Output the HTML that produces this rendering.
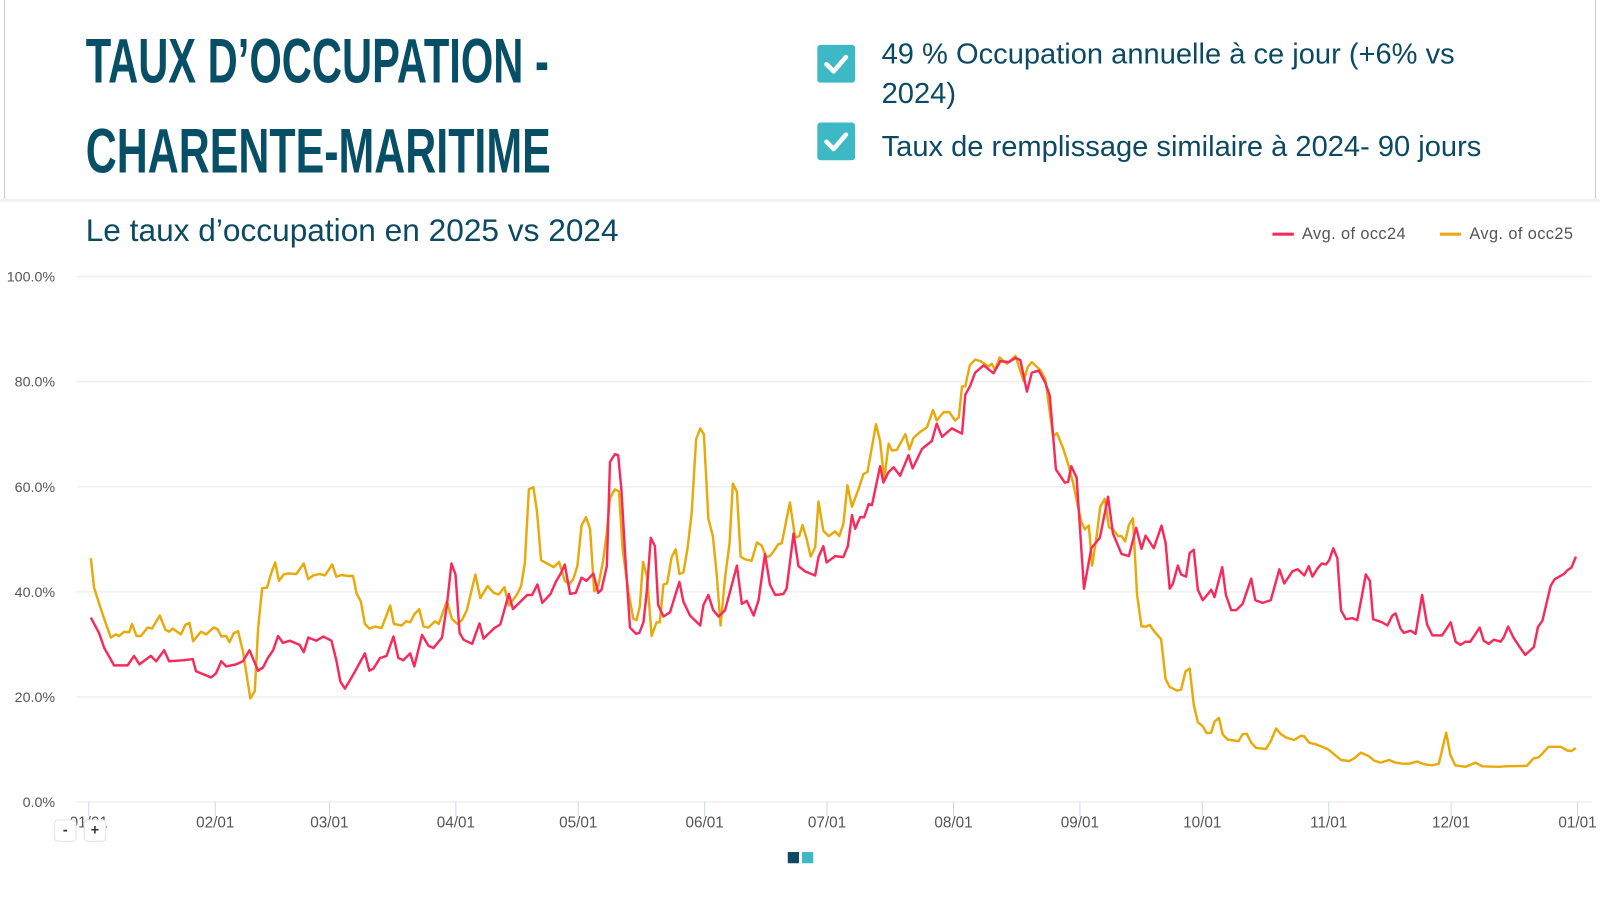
<!DOCTYPE html>
<html><head><meta charset="utf-8">
<style>
html,body{margin:0;padding:0;background:#fff;}
body{width:1600px;height:883px;position:relative;overflow:hidden;font-family:"Liberation Sans",sans-serif;}
#wrap{position:absolute;left:0;top:0;width:1568px;height:866px;transform:scale(1.0204);transform-origin:0 0;}
.abs{position:absolute;}
.title{left:84px;font-family:"Liberation Sans Narrow","Liberation Sans",sans-serif;font-weight:bold;color:#074f66;font-size:62px;line-height:62px;white-space:nowrap;transform-origin:0 0;}
.chk{width:37px;height:37px;background:#3cb9c5;border-radius:3px;}
.bul{left:864px;font-size:28.5px;color:#0b4a62;line-height:39px;white-space:nowrap;}
.btn{width:20px;height:20px;border:1px solid #e4e4e4;border-radius:4px;background:#fff;font-size:14px;color:#333;text-align:center;line-height:19px;font-weight:bold;}
.leg{font-size:16px;color:#555;white-space:nowrap;letter-spacing:0.4px;}
</style></head><body>
<div id="wrap">
<div class="abs" style="left:4px;top:0;width:1px;height:195px;background:#c8c8c8"></div>
<div class="abs" style="left:1563px;top:0;width:1px;height:195px;background:#c8c8c8"></div>
<div class="abs" style="left:0;top:195px;width:1600px;height:3px;background:#f2f2f2"></div>

<div class="abs title" id="t1" style="top:30px">TAUX D’OCCUPATION -</div>
<div class="abs title" id="t2" style="top:118px">CHARENTE-MARITIME</div>

<div class="abs chk" style="left:801px;top:44px">
<svg width="37" height="37"><polyline points="9,19 16,26 28,12" fill="none" stroke="#fff" stroke-width="4.5" stroke-linecap="round" stroke-linejoin="round"/></svg></div>
<div class="abs bul" style="top:34px">49 % Occupation annuelle à ce jour (+6% vs<br>2024)</div>
<div class="abs chk" style="left:801px;top:120px">
<svg width="37" height="37"><polyline points="9,19 16,26 28,12" fill="none" stroke="#fff" stroke-width="4.5" stroke-linecap="round" stroke-linejoin="round"/></svg></div>
<div class="abs bul" style="top:125px">Taux de remplissage similaire à 2024- 90 jours</div>

<div class="abs" style="left:84px;top:208px;font-size:31px;color:#0b4a62;white-space:nowrap">Le taux d’occupation en 2025 vs 2024</div>

<div class="abs leg" style="left:1247px;top:221px">
<span style="display:inline-block;width:21px;height:3px;background:#f72b5b;vertical-align:middle;margin-right:8px"></span>Avg. of occ24</div>
<div class="abs leg" style="left:1411px;top:221px">
<span style="display:inline-block;width:21px;height:3px;background:#e8aa0a;vertical-align:middle;margin-right:8px"></span>Avg. of occ25</div>

<svg class="abs" id="chart" style="left:0;top:0" width="1600" height="883"></svg>

<div class="abs btn" style="left:53px;top:803px">-</div>
<div class="abs btn" style="left:82px;top:803px">+</div>
<div class="abs" style="left:772px;top:835px;width:11px;height:11px;background:#0b4a62"></div>
<div class="abs" style="left:786px;top:835px;width:11px;height:11px;background:#3cb9c5"></div>
</div>

<script>
const yTicks=[0,20,40,60,80,100];
const yTickLabels=["0.0%","20.0%","40.0%","60.0%","80.0%","100.0%"];
const monthDays=[0,31,59,90,120,151,181,212,243,273,304,334,365];
const monthLabels=["01/01","02/01","03/01","04/01","05/01","06/01","07/01","08/01","09/01","10/01","11/01","12/01","01/01"];
const days24=[0.5,2.5,3.8,6.2,9.5,11.1,12.4,15.2,16.5,18.5,19.7,23.4,25.5,26.3,30,31.2,32.5,33.7,36.1,37.8,39.4,41.5,42.7,43.9,45.2,46.4,47.6,49.3,51.7,52.7,53.8,55.8,57.5,59.5,60.7,61.7,62.8,64,65.3,67.7,68.8,69.8,71.4,73,74.7,75.9,77.1,78.8,79.8,81.7,83.3,84.5,86.6,87.8,88.9,89.9,90.9,91.9,94,95.8,96.8,99.3,100.9,103,104,107.5,108.7,110,111.2,113.2,114.5,115.7,116.7,118,119.4,120.8,122,123.7,124.9,125.7,127,127.8,129,129.8,130.6,131.5,132.7,134.2,135,136,136.8,137.8,138.8,139.6,140.9,142.5,144.8,145.8,147.4,149.9,150.7,151.9,153.1,154.4,156,158.9,160.1,161.3,163,164.2,165.8,167,168.3,170.3,171.1,172.8,174,175.6,178.1,178.9,180.1,180.9,183,185,186.1,187.1,187.9,189.1,190.1,191.2,192,194,194.8,196,197.3,198.9,201,202,204.3,206.7,207.9,209.2,211.6,214.1,214.9,216.1,217.3,219.4,221.8,223.5,225.5,227.2,228.4,230,231.2,232.9,234.5,235.6,237.1,239.3,240.1,240.9,242.2,244,245.8,247.9,249.9,251.1,253.2,255,256.8,258.1,259.1,261.1,263,264,265,265.8,267,267.8,269,269.9,270.9,271.9,273.1,274.4,275.2,276,277.9,278.8,280.1,281.3,282.9,285,286,287.8,289.8,291.9,293.1,295.1,296.4,298,299.1,300,301.3,302.3,303.3,304.1,305.1,306.1,307,308.2,309.8,311,312.1,313.1,314.1,314.9,317.1,318.4,319.6,320.4,321.6,322.4,324.1,325.3,326.9,328.1,329.4,331.8,333.9,335.1,336.3,337.5,338.7,341,342,343.2,344.5,346.1,346.9,348,349.3,351,352.2,354.3,355.3,356.4,358.4,359.4,361.7,362.5,363.5,364.6];
const occ24=[35.1,32.2,29.3,26.0,26,27.8,26.2,27.8,26.8,28.9,26.8,27,27.2,24.9,23.7,24.5,26.8,25.8,26.2,26.8,28.9,25,25.6,27.4,28.9,31.6,30.3,30.7,29.9,28.5,31.3,30.7,31.5,30.7,27,22.9,21.6,23.1,24.9,28.3,25,25.4,27.4,27.8,31.5,27.4,27,28.3,25.8,31.8,29.7,29.3,31.3,37.5,45.4,43.3,32.2,30.9,30.1,34,31.1,33,33.8,39.6,36.7,39.4,39.4,41.4,37.9,39.6,41.9,43.5,45.2,39.6,39.8,42.7,42.1,43.5,39.8,40.4,44.9,64.7,66.2,66,59.4,47.2,33.2,32,32.2,34.2,40,50.3,48.7,37.5,35.3,36.1,41.9,38.1,35.5,33.6,37.5,39.4,36.5,35.3,36.5,45,37.7,38.3,35.5,38.4,47.2,41.4,39.4,39.6,40.6,51.1,44.9,43.9,43.1,46.6,48.7,45.6,46.8,46.6,48.7,54.6,52,54.2,54.2,56.7,56.5,63.9,60.8,62.7,63.7,62.1,66,63.5,67.2,68.7,72,69.5,71.1,70.1,77.5,79.2,81.7,83.1,81.6,83.9,83.7,84.5,84.1,78.1,81.7,82.1,79.8,77.3,63.3,60.8,60.9,63.9,61.7,40.6,48.3,50.3,58.1,51.1,47.2,46.8,52.2,48.2,50.7,48.3,52.6,49.3,40.6,41.6,45,43.3,42.9,47.4,48,40.4,38.4,39.6,40.4,39,44.7,39.4,36.5,36.5,37.7,42.5,38.4,37.9,38.4,44.3,41.6,43.9,44.3,43.1,44.9,42.9,44.5,45.4,45.2,46,48.3,46.4,36.5,34.8,35,34.6,39,43.3,42.1,34.8,34.2,33.6,35.5,35.9,33,32.2,32.6,32,39.4,33.8,31.7,31.7,34.2,30.5,29.9,30.5,30.5,33.2,30.7,30.1,30.9,30.5,31.3,33.4,31.3,29.3,28,29.5,33.3,34.5,41.1,42.4,43.4,44.1,44.6,46.7];
const days25=[0.5,1.3,2.9,4.2,5.4,6.6,7.4,8.7,9.9,10.6,11.7,12.8,14.4,15.5,17.4,18.8,19.7,20.6,22.6,23.7,24.7,25.6,27.5,28.8,30.6,31.6,32.5,33.7,34.5,35.5,36.6,37.8,38.6,39.6,40.7,41.5,42.5,43.7,44.8,45.7,46.6,47.8,48.9,50.9,52.7,53.8,55,56.6,57.9,59.7,60.7,62,63.6,64.8,65.7,66.7,67.7,68.8,70.2,71.8,73.9,74.8,76.7,77.8,78.8,79.8,81,82.1,83.3,84.9,85.8,87.8,89,90.3,91.5,92.7,94.8,96,97.8,99.3,100.5,101.9,103,105,106,106.9,107.9,109,109.9,110.9,114,115.3,116.7,117.8,118.8,119.8,120.8,121.9,122.9,123.9,124.9,126.1,127,127.8,129,130,130.9,132.3,133.5,134.3,135.1,135.9,136.9,138,139.2,140,140.9,141.8,142.9,143.9,144.8,145.8,146.8,147.8,148.9,149.9,150.8,151.9,153,153.9,154.9,156,157.1,157.9,158.9,159.8,160.9,162.5,163.8,165,166.1,167,167.9,169.1,169.9,171.9,173.2,174.2,175,176,177,178.1,178.9,180.1,181.4,183,184,185,186,187.1,188.7,189.9,190.9,193,194,195,196.1,196.9,198.1,200.2,201.2,202.2,203.8,205.5,207,207.9,209.6,211,212.4,213.3,214.1,214.9,216,217.3,218.6,220.6,221.4,222.2,223.3,225.1,227.2,229.2,230.2,231.2,233.3,234.5,236.4,237.4,238.9,240.1,241.4,242.6,243.4,244.2,245.2,246,247.1,248,249.1,250.1,251.1,252.4,253.2,254.1,255,256,257,258.1,259.3,260.1,261.3,262.9,264,265,266.8,267.8,268.9,269.9,270.9,271.9,273.1,274.1,275.2,276,277.1,278,279.2,281.9,282.9,283.9,285,286.2,288.6,289.8,291.1,292.3,293.5,295.5,297.2,298,299.2,300.8,303.7,305.3,307,309,310.2,311.9,313.9,315.1,316.7,318.8,320.4,322.1,323.7,325.7,327.3,329.4,331,332.8,333.8,335,337.5,340,341.6,345.7,347.3,352.6,354.2,355.5,357.9,359.1,360.9,362.5,363.5,364.6];
const occ25=[46.4,40.8,36.9,33.9,31.3,31.9,31.6,32.4,32.3,33.9,31.6,31.6,33.2,33,35.5,32.8,32.4,33,31.9,33.7,34.1,30.6,32.4,31.9,33.2,32.9,31.5,31.6,30.4,32.1,32.5,28.7,24.7,19.7,21.1,32.9,40.7,40.8,43.7,45.6,42.1,43.3,43.5,43.4,45.4,42.4,43.1,43.4,43.1,45.2,42.9,43.2,43,43,39.6,38.2,33.9,33,33.4,33.1,37.4,33.9,33.6,34.4,34.2,35.7,36.7,33.4,33.2,34.4,33.9,38.2,34.9,33.9,34.6,36.5,43.3,38.8,41.1,39.8,39.5,40.9,37.4,39.5,41.1,45.4,59.5,59.9,55.2,46,44.7,45.7,42.1,41.4,42.4,45,52.6,54.2,51.9,40.1,41.1,46,51.3,57.8,59.5,59.1,48,40.1,34.9,34.6,37.2,45.7,42.8,31.6,34.2,34.2,41.4,41.6,46.6,48.1,43.4,43.7,48.3,54.9,69,71.1,70,53.9,50.6,43.7,33.6,42.8,49.3,60.6,59,46.7,46.2,45.9,49.4,48.8,46.6,46.8,47.7,49.1,49.2,57,50.3,50.6,52.7,50.1,46.7,48.5,57.2,51.6,50.6,51.5,50.6,52.9,60.3,56.2,59.5,62.4,62.8,71.9,68.7,61.4,68.2,66.9,67,70,67.1,69.3,70.4,71.3,74.6,72.6,74.2,74.2,72.6,73.2,79.1,79.1,83.1,84.2,83.9,82.9,83.4,82.2,84.6,83.4,84.9,80.1,82.8,83.7,82.2,80.5,69.6,70.2,67.3,64.4,60.5,55.9,53.2,51.9,52.6,45,50.6,56.2,57.7,52.3,51.9,50.6,50.6,49.6,52.7,54,39.5,33.4,33.4,33.7,32.4,31,23.4,21.9,21.2,21.4,24.9,25.4,18.5,15.2,14.4,13.1,13.2,15.3,16,12.9,11.9,11.6,12.9,13,11.3,10.3,10.1,11.6,14,12.9,12.3,11.8,12.6,12.5,11.3,11,10.1,9.1,8,7.8,8.3,9.4,8.7,7.9,7.5,8,7.5,7.3,7.3,7.7,7.2,7,7.3,13.2,9,7,6.7,7.5,6.8,6.7,6.8,6.9,8.3,8.5,10.5,10.5,10.5,9.8,9.7,10.3];

const NS="http://www.w3.org/2000/svg";
const svg=document.getElementById('chart');
const X0=87,X1=1546,Y0=786,Y100=271;
function xs(d){return X0+(X1-X0)*d/365;}
function ys(v){return Y0-(Y0-Y100)*v/100;}
function mk(tag,attrs){const e=document.createElementNS(NS,tag);for(const k in attrs)e.setAttribute(k,attrs[k]);svg.appendChild(e);return e;}

yTicks.forEach((t,i)=>{
  const g=mk('line',{x1:75,x2:1560,y1:ys(t),y2:ys(t),stroke:'#efeff3','stroke-width':1.5});
  
  
  const tx=mk('text',{x:54,y:ys(t)+5,'text-anchor':'end','font-size':14,fill:'#555','font-family':'Liberation Sans, sans-serif'});
  tx.textContent=yTickLabels[i];
  
  
});
monthDays.forEach((d,i)=>{
  const tk=mk('line',{x1:xs(d),x2:xs(d),y1:Y0,y2:Y0+14,stroke:'#cfd6ee','stroke-width':1});
  
  
  const tx=mk('text',{x:xs(d),y:Y0+25,'text-anchor':'middle','font-size':15,fill:'#555','font-family':'Liberation Sans, sans-serif'});
  tx.textContent=monthLabels[i];
  
  
});
function line(days,vals,color,name){
  const pts=days.map((d,i)=>xs(d).toFixed(1)+','+ys(vals[i]).toFixed(1)).join(' ');
  const p=mk('polyline',{points:pts,fill:'none',stroke:color,'stroke-width':2.4,'stroke-linejoin':'round'});
  
  
}
line(days25,occ25,'#e8aa0a','series-occ25');
line(days24,occ24,'#f72b5b','series-occ24');

function fit(id,w){const el=document.getElementById(id);const r=el.offsetWidth;el.style.transform='scaleX('+(w/r)+')';}
fit('t1',454);fit('t2',456);
</script>
</body></html>
